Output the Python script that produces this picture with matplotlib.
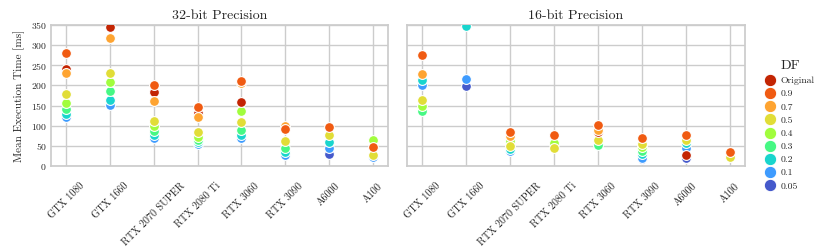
import numpy as np
import matplotlib
matplotlib.use("Agg")
import matplotlib.pyplot as plt
import seaborn as sns

sns.set_theme(style="whitegrid")
plt.rcParams['font.family'] = ['cmr10', 'DejaVu Serif']
plt.rcParams['mathtext.fontset'] = 'cm'
plt.rcParams['axes.formatter.use_mathtext'] = True

nan = np.nan
gpus = ["GTX 1080", "GTX 1660", "RTX 2070 SUPER", "RTX 2080 Ti",
        "RTX 3060", "RTX 3090", "A6000", "A100"]
df_levels = ["Original", "0.9", "0.7", "0.5", "0.4", "0.3", "0.2", "0.1", "0.05"]
draw_order = ["0.05", "0.1", "0.2", "0.3", "0.4", "0.5", "Original", "0.7", "0.9"]

fp32 = {
    "Original": [240, 346, 184, 132, 158, nan, nan, nan],
    "0.9":      [281, nan, 200, 147, 212, 92, 98, 46],
    "0.7":      [231, 318, 162, 121, 205, 100, nan, nan],
    "0.5":      [179, 230, 112, 84, 108, 63, 78, 27],
    "0.4":      [157, 209, 100, 73, 137, nan, nan, 65],
    "0.3":      [141, 185, 87, 65, 89, 45, nan, nan],
    "0.2":      [128, 163, 76, 60, 77, 36, 60, nan],
    "0.1":      [121, 151, 70, 54, 69, 27, 45, 22],
    "0.05":     [nan, nan, nan, nan, nan, nan, 31, nan],
}
fp16 = {
    "Original": [nan, nan, nan, nan, 84, nan, 27, nan],
    "0.9":      [276, nan, 85, 76, 102, 69, 77, 34],
    "0.7":      [228, nan, 75, nan, 89, nan, nan, nan],
    "0.5":      [163, nan, 49, 44, 65, 54, 65, 22],
    "0.4":      [150, nan, 62, 56, nan, 46, nan, nan],
    "0.3":      [136, nan, nan, nan, 52, 37, nan, nan],
    "0.2":      [213, 348, 42, nan, nan, 29, 58, nan],
    "0.1":      [201, 216, 38, nan, nan, 21, 44, nan],
    "0.05":     [nan, 198, nan, nan, nan, 17, 19, nan],
}

palette = dict(zip(df_levels, sns.color_palette("turbo_r", len(df_levels))))

fig = plt.figure(figsize=(8.31, 2.49), dpi=100)
ax1 = fig.add_axes([0.0614, 0.3333, 0.4056, 0.5663])
ax2 = fig.add_axes([0.4898, 0.3333, 0.4067, 0.5663], sharey=ax1)

x = np.arange(len(gpus))
for ax, data, title in [(ax1, fp32, "32-bit Precision"), (ax2, fp16, "16-bit Precision")]:
    for lvl in draw_order:
        ax.scatter(x, data[lvl], s=50, color=palette[lvl], edgecolor="white",
                   linewidth=0.8, zorder=3, clip_on=True)
    ax.set_xlim(-0.35, 7.35)
    ax.set_ylim(0, 350)
    ax.set_yticks(np.arange(0, 351, 50))
    ax.set_xticks(x)
    ax.set_xticklabels(gpus, rotation=45, ha="center", fontsize=7.3)
    ax.tick_params(axis="y", labelsize=7, pad=3, length=0)
    ax.tick_params(axis="x", labelsize=7.3, pad=11, length=0)
    ax.set_title(title, fontsize=10, pad=4)
    for sp in ax.spines.values():
        sp.set_color("#cccccc")
    ax.grid(True, color="#cccccc", linewidth=1)

ax1.set_ylabel("Mean Execution Time [ms]", fontsize=8, labelpad=4)
plt.setp(ax2.get_yticklabels(), visible=False)

handles = [plt.Line2D([], [], marker="o", linestyle="", markersize=9,
                      markerfacecolor=palette[l], markeredgecolor="white",
                      markeredgewidth=0.8) for l in df_levels]
leg = fig.legend(handles, df_levels, title="DF", loc="upper left",
                 bbox_to_anchor=(0.916, 0.775), frameon=False, fontsize=7,
                 title_fontsize=10, handletextpad=0.5, labelspacing=0.45,
                 borderaxespad=0, handlelength=1.1)

fig.savefig("out.png", dpi=100)
